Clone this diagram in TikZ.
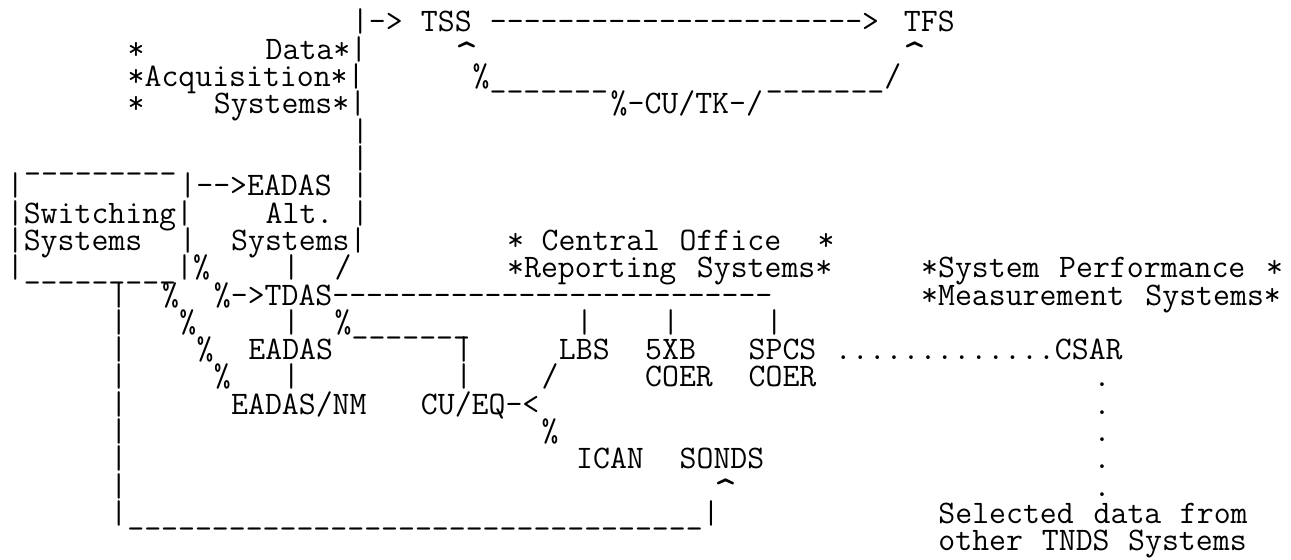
\documentclass[tikz,border=0pt]{standalone}
\usepackage{tikz}
\newcommand\asciifont{\fontsize{16.43}{13.65}\selectfont\ttfamily}
\newcommand\runof[2]{\foreach\k in {1,...,#1}{#2\kern0pt}}
\newcommand\caret{\raisebox{-0.32em}{\scalebox{1.35}{\textasciicircum}}}

\begin{document}
\begin{tikzpicture}[x=8.625pt,y=-13.65pt,
 ch/.style={anchor=base west,inner sep=0pt,font=\asciifont}]
\useasboundingbox[fill=white] (-0.377,-0.172) rectangle (74.46,20.304);
\foreach \r in {5,...,8} \node[ch] (trunk\r) at (20,\r) {|};
\foreach \r in {11,...,18} \node[ch] (bus\r) at (6,\r) {|};
\foreach \r in {14,...,18} \node[ch] (dot\r) at (63,\r) {.};
\node[ch] (tssin) at (20,1) {|->};
\node[ch] (tss) at (24,1) {TSS};
\node[ch] (tssout) at (28,1) {\runof{22}{-}>};
\node[ch] (tfs) at (52,1) {TFS};
\node[ch] (acqa) at (7,2) {*};
\node[ch] (data) at (15,2) {Data*|};
\node[ch] (tssup) at (26,2) {\caret};
\node[ch] (tfsup) at (52,2) {\caret};
\node[ch] (acqb) at (7,3) {*Acquisition*|};
\node[ch] (cutka) at (27,3) {\%\runof{7}{\_}};
\node[ch] (cutkb) at (44,3) {\runof{7}{\_}/};
\node[ch] (acqc) at (7,4) {*};
\node[ch] (acqsys) at (12,4) {Systems*|};
\node[ch] (cutk) at (35,4) {\%-CU/TK-/};
\node[ch] (swtop) at (1,6) {\runof{9}{\_}};
\node[ch] (swl) at (0,7) {|};
\node[ch] (eadas) at (10,7) {|\runof{2}{-}>EADAS};
\node[ch] (sw) at (0,8) {|Switching|};
\node[ch] (alt) at (15,8) {Alt.};
\node[ch] (swsys) at (0,9) {|Systems};
\node[ch] (swr) at (10,9) {|};
\node[ch] (altsys) at (13,9) {Systems|};
\node[ch] (coa) at (29,9) {*};
\node[ch] (co) at (31,9) {Central};
\node[ch] (off) at (39,9) {Office};
\node[ch] (cob) at (47,9) {*};
\node[ch] (swbot) at (0,10) {|\runof{9}{\_}|\%};
\node[ch] (altdn) at (16,10) {|};
\node[ch] (altsl) at (19,10) {/};
\node[ch] (rep) at (29,10) {*Reporting};
\node[ch] (repsys) at (40,10) {Systems*};
\node[ch] (spm) at (53,10) {*System};
\node[ch] (perf) at (61,10) {Performance};
\node[ch] (spmb) at (73,10) {*};
\node[ch] (nma) at (9,11) {\%};
\node[ch] (tdas) at (12,11) {\%->TDAS\runof{26}{-}};
\node[ch] (meas) at (53,11) {*Measurement};
\node[ch] (meassys) at (66,11) {Systems*};
\node[ch] (nmb) at (10,12) {\%};
\node[ch] (tdasdn) at (16,12) {|};
\node[ch] (eqa) at (19,12) {\%\runof{7}{\_}};
\node[ch] (lbsup) at (33,12) {|};
\node[ch] (xbup) at (38,12) {|};
\node[ch] (spcsup) at (44,12) {|};
\node[ch] (nmc) at (11,13) {\%};
\node[ch] (eadasb) at (14,13) {EADAS};
\node[ch] (eqb) at (26,13) {|};
\node[ch] (lbs) at (32,13) {LBS};
\node[ch] (xb) at (37,13) {5XB};
\node[ch] (spcs) at (43,13) {SPCS};
\node[ch] (csar) at (48,13) {\runof{13}{.}CSAR};
\node[ch] (nmd) at (12,14) {\%};
\node[ch] (eadasdn) at (16,14) {|};
\node[ch] (eqc) at (26,14) {|};
\node[ch] (lbsin) at (31,14) {/};
\node[ch] (xbcoer) at (37,14) {COER};
\node[ch] (spcoer) at (43,14) {COER};
\node[ch] (nm) at (13,15) {EADAS/NM};
\node[ch] (cueq) at (24,15) {CU/EQ-<};
\node[ch] (icanin) at (31,16) {\%};
\node[ch] (ican) at (33,17) {ICAN};
\node[ch] (sonds) at (39,17) {SONDS};
\node[ch] (sondsup) at (41,18) {\caret};
\node[ch] (busend) at (6,19) {|\runof{34}{\_}|};
\node[ch] (sel) at (54,19) {Selected};
\node[ch] (seldata) at (63,19) {data};
\node[ch] (selfrom) at (68,19) {from};
\node[ch] (oth) at (54,20) {other};
\node[ch] (tnds) at (60,20) {TNDS};
\node[ch] (othsys) at (65,20) {Systems};
\end{tikzpicture}
\end{document}
